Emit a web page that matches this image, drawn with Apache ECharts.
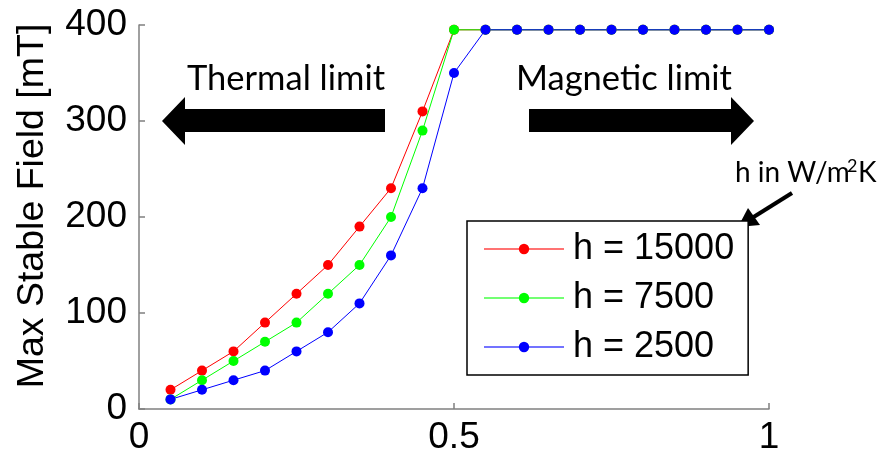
<!DOCTYPE html>
<html>
<head>
<meta charset="utf-8">
<script src="https://cdn.jsdelivr.net/npm/echarts@6/dist/echarts.min.js"></script>
<style>
  html, body { margin: 0; padding: 0; background: #fff; }
  #chart { width: 888px; height: 456px; }
</style>
</head>
<body>
<div id="chart"></div>
<script>
// x values (fraction) and max stable field per heat transfer coefficient
const xVals = [0.05, 0.1, 0.15, 0.2, 0.25, 0.3, 0.35, 0.4, 0.45, 0.5, 0.55, 0.6, 0.65, 0.7, 0.75, 0.8, 0.85, 0.9, 0.95, 1.0];
const h15000 = [20, 40, 60, 90, 120, 150, 190, 230, 310, 395, 395, 395, 395, 395, 395, 395, 395, 395, 395, 395];
const h7500 = [10, 30, 50, 70, 90, 120, 150, 200, 290, 395, 395, 395, 395, 395, 395, 395, 395, 395, 395, 395];
const h2500 = [10, 20, 30, 40, 60, 80, 110, 160, 230, 350, 395, 395, 395, 395, 395, 395, 395, 395, 395, 395];
const seriesNames = ['h = 15000', 'h = 7500', 'h = 2500'];
const seriesColors = ['#ff0000', '#00ff00', '#0000ff'];
const yTicks = [0, 100, 200, 300, 400];

const FONT = '"Liberation Sans", Arial, sans-serif';
const NOTE_FONT = 'Lato, "Open Sans", sans-serif';

const chart = echarts.init(document.getElementById('chart'));

const makeSeries = (name, data, color) => ({
    name, type: 'line',
    data: xVals.map((x, i) => [x, data[i]]),
    symbol: 'circle', symbolSize: 10,
    lineStyle: { width: 1, color },
    itemStyle: { color },
    emphasis: { disabled: true },
    animation: false
});

chart.setOption({
    backgroundColor: '#fff',
    grid: { left: 139, right: 119, top: 25, bottom: 45 },
    legend: {
        data: seriesNames,
        orient: 'vertical',
        left: 467, top: 221,
        padding: [10, 14, 10, 16],
        itemWidth: 80, itemHeight: 13, itemGap: 13,
        borderColor: '#000', borderWidth: 1.5,
        backgroundColor: '#fff',
        textStyle: { fontFamily: FONT, fontSize: 36, color: '#000', lineHeight: 36, padding: [0, 0, 0, 4] },
        lineStyle: { opacity: 0.55 },
        selectedMode: false
    },
    xAxis: {
        type: 'value', min: 0, max: 1, interval: 0.5,
        axisLine: { lineStyle: { color: '#808080', width: 1.5 } },
        axisTick: { inside: true, length: 6, lineStyle: { color: '#808080', width: 1.5 } },
        axisLabel: { fontFamily: FONT, fontSize: 37, color: '#000', margin: 10 },
        splitLine: { show: false }
    },
    yAxis: {
        type: 'value', min: yTicks[0], max: yTicks[yTicks.length - 1], interval: 100,
        axisLine: { show: true, lineStyle: { color: '#808080', width: 1.5 } },
        axisTick: { show: true, inside: true, length: 6, lineStyle: { color: '#808080', width: 1.5 } },
        axisLabel: { fontFamily: FONT, fontSize: 37, color: '#000', margin: 12 },
        splitLine: { show: false }
    },
    series: [
        makeSeries(seriesNames[0], h15000, seriesColors[0]),
        makeSeries(seriesNames[1], h7500, seriesColors[1]),
        makeSeries(seriesNames[2], h2500, seriesColors[2])
    ],
    graphic: [
        // y axis title
        { type: 'text', x: 33, y: 206, rotation: Math.PI / 2,
          style: { text: 'Max Stable Field [mT]', font: '37.5px ' + FONT, fill: '#000', align: 'center', verticalAlign: 'middle' } },
        // annotations
        { type: 'text', left: 187, top: 61, style: { text: 'Thermal limit', font: '34.5px ' + NOTE_FONT, fill: '#000' } },
        { type: 'text', left: 516, top: 61, style: { text: 'Magnetic limit', font: '34.5px ' + NOTE_FONT, fill: '#000' } },
        { type: 'polygon', shape: { points: [[162, 121], [185, 97], [185, 109], [385, 109], [385, 132], [185, 132], [185, 145]] }, style: { fill: '#000' } },
        { type: 'polygon', shape: { points: [[754, 121], [731, 97], [731, 109], [529, 109], [529, 132], [731, 132], [731, 145]] }, style: { fill: '#000' } },
        { type: 'text', left: 735, top: 159, style: { text: 'h in W/m', font: '28px ' + NOTE_FONT, fill: '#000' } },
        { type: 'text', left: 847, top: 157, style: { text: '2', font: '18px ' + NOTE_FONT, fill: '#000' } },
        { type: 'text', left: 858, top: 159, style: { text: 'K', font: '28px ' + NOTE_FONT, fill: '#000' } },
        { type: 'line', shape: { x1: 792, y1: 193, x2: 752, y2: 218 }, style: { stroke: '#000', lineWidth: 4 } },
        { type: 'polygon', shape: { points: [[738, 227], [748, 208], [760, 225]] }, style: { fill: '#000' } }
    ]
});
</script>
</body>
</html>
